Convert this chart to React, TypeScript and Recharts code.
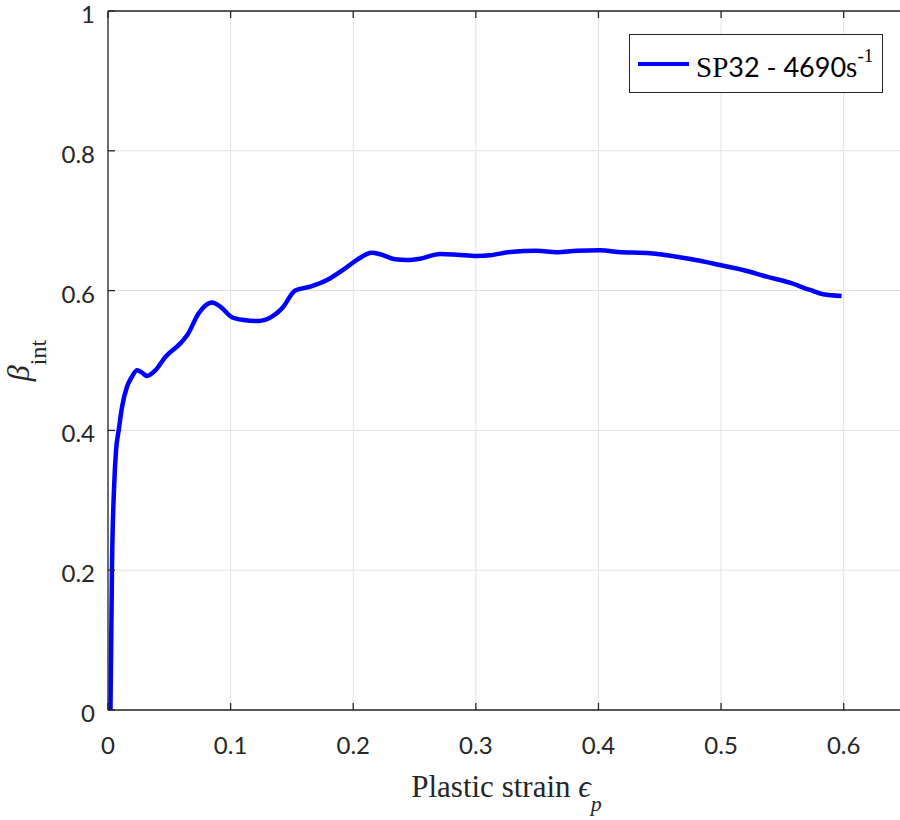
import { CartesianGrid, Label, Line, LineChart, XAxis, YAxis } from "recharts";

// plastic strain (x) and beta_int (y)
const strain = [
  0.002, 0.0033, 0.005, 0.0065, 0.0087, 0.0115, 0.0155, 0.0196, 0.0237, 0.0275,
  0.0318, 0.0386, 0.0468, 0.059, 0.0645, 0.074, 0.079, 0.0848, 0.0916, 0.101,
  0.1106, 0.1228, 0.1337, 0.1419, 0.1527, 0.165, 0.1786, 0.192, 0.203, 0.2152,
  0.222, 0.2342, 0.2438, 0.2546, 0.2709, 0.2845, 0.3008, 0.3117, 0.328, 0.3497,
  0.366, 0.3823, 0.4013, 0.4162, 0.442, 0.4638, 0.4828, 0.4991, 0.518, 0.5372,
  0.556, 0.5725, 0.5833, 0.5983,
];
const betaInt = [
  0.0, 0.21, 0.32, 0.37, 0.4, 0.434, 0.4625, 0.477, 0.486, 0.483,
  0.478, 0.486, 0.505, 0.5245, 0.536, 0.5675, 0.578, 0.583, 0.577, 0.562,
  0.558, 0.5565, 0.5627, 0.5746, 0.6, 0.6056, 0.615, 0.63, 0.644, 0.654,
  0.652, 0.6448, 0.6438, 0.6456, 0.6524, 0.6514, 0.6495, 0.6505, 0.6552, 0.657,
  0.655, 0.657, 0.6576, 0.6552, 0.6533, 0.6485, 0.6428, 0.6366, 0.6295, 0.6199,
  0.6113, 0.6009, 0.5947, 0.5923,
];
const xTicks = [0, 0.1, 0.2, 0.3, 0.4, 0.5, 0.6];
const yTicks = [0, 0.2, 0.4, 0.6, 0.8, 1];
const seriesName = "SP32 - 4690s";

const data = strain.map((x, i) => ({ x, y: betaInt[i] }));

const axisColor = "#262626";
const tickFont = "Lato, 'Noto Sans', sans-serif";
const serif = "'Liberation Serif', 'DejaVu Serif', serif";

const XTick = ({ x, y, payload }: any) => (
  <g>
    <line x1={x} x2={x} y1={y} y2={y - 7} stroke={axisColor} strokeWidth={1.3} />
    <text x={x} y={y + 44} textAnchor="middle" fontFamily={tickFont} fontSize={24} fill={axisColor}>
      {String(payload.value)}
    </text>
  </g>
);

const TopTick = ({ x, y }: any) => <line x1={x} x2={x} y1={y} y2={y + 7} stroke={axisColor} strokeWidth={1.3} />;

const YTick = ({ x, y, payload }: any) => (
  <g>
    <line x1={x} x2={x + 7} y1={y} y2={y} stroke={axisColor} strokeWidth={1.3} />
    <text x={x - 13} y={y + 12} textAnchor="end" fontFamily={tickFont} fontSize={24} fill={axisColor}>
      {String(payload.value)}
    </text>
  </g>
);

const XTitle = ({ viewBox }: any) => {
  const cx = viewBox.x + viewBox.width / 2;
  return (
    <text x={cx} y={797} textAnchor="middle" fontFamily={serif} fontSize={31} fill={axisColor}>
      Plastic strain <tspan fontStyle="italic">ϵ</tspan>
      <tspan fontStyle="italic" fontSize={22} dy={14}>p</tspan>
    </text>
  );
};

const YTitle = ({ viewBox }: any) => {
  const cy = viewBox.y + viewBox.height / 2;
  const bx = 29;
  return (
    <text x={bx} y={cy} transform={`rotate(-90, ${bx}, ${cy})`} textAnchor="middle" fontFamily={serif} fontSize={32} fill={axisColor}>
      <tspan fontStyle="italic">β</tspan>
      <tspan fontSize={24} dy={17}>int</tspan>
    </text>
  );
};

export default function App() {
  return (
    <div style={{ position: "absolute", left: 0, top: 0, width: 900, height: 820, overflow: "hidden", background: "#fff" }}>
      <LineChart width={910} height={820} data={data} margin={{ top: 10, right: 5, bottom: 109, left: 107 }}>
        <CartesianGrid stroke="#e2e2e2" strokeWidth={1} />
        <XAxis
          dataKey="x"
          type="number"
          domain={[0, 0.65]}
          ticks={xTicks}
          height={1}
          tickSize={0}
          tickMargin={0}
          tick={<XTick />}
          axisLine={{ stroke: axisColor, strokeWidth: 1.3 }}
          tickLine={false}
          interval={0}
        >
          <Label content={<XTitle />} />
        </XAxis>
        <XAxis
          xAxisId="top"
          orientation="top"
          dataKey="x"
          type="number"
          domain={[0, 0.65]}
          ticks={xTicks}
          height={1}
          tickSize={0}
          tickMargin={0}
          tick={<TopTick />}
          axisLine={{ stroke: axisColor, strokeWidth: 1.3 }}
          tickLine={false}
          interval={0}
        />
        <YAxis
          type="number"
          domain={[0, 1]}
          ticks={yTicks}
          width={1}
          tickSize={0}
          tickMargin={0}
          tick={<YTick />}
          axisLine={{ stroke: axisColor, strokeWidth: 1.3 }}
          tickLine={false}
          interval={0}
        >
          <Label content={<YTitle />} />
        </YAxis>
        <Line
          type="monotone"
          dataKey="y"
          name={seriesName}
          stroke="#0000ff"
          strokeWidth={4.5}
          dot={false}
          isAnimationActive={false}
        />
      </LineChart>
      <div
        style={{
          position: "absolute",
          left: 629,
          top: 34,
          width: 252,
          height: 57,
          border: `1px solid ${axisColor}`,
          background: "#fff",
          display: "flex",
          alignItems: "center",
        }}
      >
        <div style={{ marginLeft: 8, width: 51, height: 4, background: "#0000ff" }} />
        <div style={{ marginLeft: 7, fontFamily: serif, fontSize: 29, color: "#000", lineHeight: 1, marginTop: 4 }}>
          SP<span style={{ fontFamily: tickFont, fontSize: 27 }}>32 - 4690</span>s
          <sup style={{ fontSize: 19, position: "relative", top: -4 }}>-1</sup>
        </div>
      </div>
    </div>
  );
}
